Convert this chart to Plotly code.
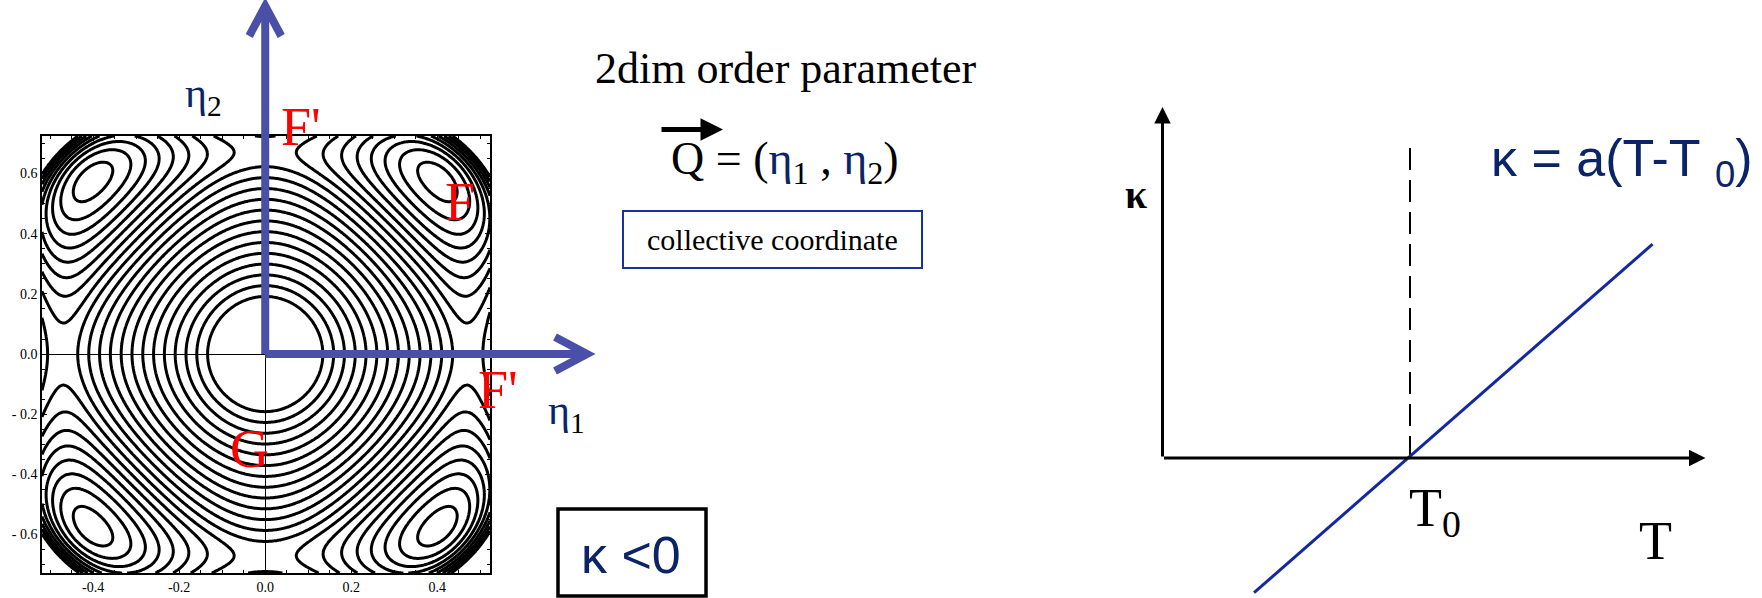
import numpy as np
import plotly.graph_objects as go

W, H = 1762, 598

# ---------------- free-energy landscape F(eta1, eta2), kappa < 0 ----------------
ETA1_RANGE = [-0.519, 0.5226]
ETA2_RANGE = [-0.728, 0.725]
ETA1_SCALE = 1.911      # eta1 -> reduced radius r
ETA2_SCALE = 1.337      # eta2 -> reduced radius r
RIDGE_START = 0.82      # the axis profile starts to bend up here
RIDGE_CURV = 6.25       # curvature of the ridge through the F' saddles
MIN_R = 1.09            # F minima on the diagonals
DEPTH_E = 0.5725        # extra depth of the diagonal valleys
WALL_W = 0.4225         # confining wall along the diagonals
CORNER_CAP = -0.80      # flat top of the far corners
LEVEL_TOP = -0.256
LEVEL_STEP = 0.048
N_LEVELS = 25

X_TICKS = [-0.4, -0.2, 0.0, 0.2, 0.4]
X_TICK_TEXT = ["-0.4", "-0.2", "0.0", "0.2", "0.4"]
Y_TICKS = [-0.6, -0.4, -0.2, 0.0, 0.2, 0.4, 0.6]
Y_TICK_TEXT = ["- 0.6", "- 0.4", "- 0.2", "0.0", "0.2", "0.4", "0.6"]
MINOR_STEP = 0.05

# ---------------- kappa(T) sketch ----------------
T_LINE = [1.85, 9.9]
KAPPA_LINE = [-2.72, 4.32]
T_ZERO = 5.0
DASH_TOP = 6.46
T_AXIS_END = 10.97
KAPPA_AXIS_END = 7.09

NAVY = "#0b2468"
ARROW_BLUE = "#4a4fa8"
LINE_BLUE = "#1428a0"
SERIF = "Liberation Serif"
SANS = "Liberation Sans"
NBSP = "\u00a0"


def px(x):
    return x / W


def py(y):
    return 1 - y / H


# contour panel placement (pixels)
C_LEFT, C_RIGHT, C_TOP, C_BOTTOM = 42, 490, 136, 573

eta1 = np.linspace(ETA1_RANGE[0], ETA1_RANGE[1], 321)
eta2 = np.linspace(ETA2_RANGE[0], ETA2_RANGE[1], 321)
U, V = np.meshgrid(eta1 * ETA1_SCALE, eta2 * ETA2_SCALE)
R = np.hypot(U, V) + 1e-9
# radial profiles along the axes and along the diagonals
f_axis = -R + RIDGE_CURV * np.clip(R - RIDGE_START, 0, None) ** 2
f_diag = -R - DEPTH_E * (R / MIN_R) ** 4 + WALL_W * (R / MIN_R) ** 8
# fourfold angular weight: 1 on the axes, 0 on the diagonals
c4 = ((U**2 - V**2) / R**2) ** 2
Z = c4 * f_axis + (1 - c4) * f_diag
Z = np.where(R > 1.0, np.minimum(Z, CORNER_CAP), Z)

fig = go.Figure()
fig.add_trace(go.Contour(
    x=eta1, y=eta2, z=np.round(Z, 5),
    contours=dict(coloring="lines", start=LEVEL_TOP - LEVEL_STEP * (N_LEVELS - 1),
                  end=LEVEL_TOP, size=LEVEL_STEP, showlabels=False),
    line=dict(width=3, smoothing=1),
    colorscale=[[0, "black"], [1, "black"]], showscale=False,
    hoverinfo="skip", xaxis="x", yaxis="y",
))

# kappa(T) diagram
fig.add_trace(go.Scatter(x=[T_ZERO, T_ZERO], y=[0, DASH_TOP], mode="lines",
                         line=dict(color="black", width=2, dash="22px,10px"),
                         xaxis="x2", yaxis="y2", hoverinfo="skip"))
fig.add_trace(go.Scatter(x=T_LINE, y=KAPPA_LINE, mode="lines",
                         line=dict(color=LINE_BLUE, width=3),
                         xaxis="x2", yaxis="y2", hoverinfo="skip"))

# pixel geometry of the kappa(T) axes
K_ORIGIN = (1162.5, 458.0)
K_SCALE = 49.5


def eta_to_px(e1, e2):
    x = C_LEFT + (e1 - ETA1_RANGE[0]) / (ETA1_RANGE[1] - ETA1_RANGE[0]) * (C_RIGHT - C_LEFT)
    y = C_TOP + (ETA2_RANGE[1] - e2) / (ETA2_RANGE[1] - ETA2_RANGE[0]) * (C_BOTTOM - C_TOP)
    return x, y


ox, oy = eta_to_px(0.0, 0.0)
shapes = []
# eta1 / eta2 coordinate arrows
up_tip = (ox, 6)
right_tip = (587, oy)
for a, b in [((ox, oy), up_tip), ((ox, oy), right_tip)]:
    shapes.append(dict(type="path", xref="paper", yref="paper",
                       path=f"M {px(a[0])} {py(a[1])} L {px(b[0])} {py(b[1])}",
                       line=dict(color=ARROW_BLUE, width=8), layer="above"))
shapes.append(dict(type="path", xref="paper", yref="paper",
                   path=f"M {px(up_tip[0]-16)} {py(36)} L {px(up_tip[0])} {py(up_tip[1])} "
                        f"L {px(up_tip[0]+16)} {py(36)}",
                   line=dict(color=ARROW_BLUE, width=8), layer="above"))
shapes.append(dict(type="path", xref="paper", yref="paper",
                   path=f"M {px(555)} {py(oy-17)} L {px(right_tip[0])} {py(right_tip[1])} "
                        f"L {px(555)} {py(oy+17)}",
                   line=dict(color=ARROW_BLUE, width=8), layer="above"))
# boxes
shapes.append(dict(type="rect", xref="paper", yref="paper",
                   x0=px(623), x1=px(922), y0=py(268), y1=py(211),
                   line=dict(color="#1830a0", width=2)))
shapes.append(dict(type="rect", xref="paper", yref="paper",
                   x0=px(558), x1=px(706), y0=py(596), y1=py(509),
                   line=dict(color="black", width=3.5)))

ann = []


def label(text, x, y, size, color="black", family=SERIF, xanchor="center"):
    ann.append(dict(text=text, x=px(x), y=py(y), xref="paper", yref="paper",
                    showarrow=False, xanchor=xanchor, yanchor="middle",
                    font=dict(family=family, size=size, color=color)))


eta = f"<span style='color:{NAVY}'>η</span>"
label(eta + "<sub>2</sub>", 203, 96, 42)
label(eta + "<sub>1</sub>", 566, 413, 42)
label("F'", 301, 127, 54, "#ff0000")
label("F'", 498, 390, 54, "#ff0000")
label("F", 460, 202, 54, "#ff0000")
label("G", 249, 449, 54, "#ff0000")
label("2dim order parameter", 786, 68, 44)
label(f"Q = ({eta}<sub>1</sub> , {eta}<sub>2</sub>)", 785, 162, 46)
label("collective coordinate", 772, 240, 30)
label("κ <0", 631, 555, 52, NAVY, SANS)
label("<b>κ</b>", 1136, 194, 40)
label(f"κ = a(T-T{NBSP}<sub>0</sub>)", 1489, 162, 52, NAVY, SANS, xanchor="left")
label("T<sub>0</sub>", 1435, 511, 54)
label("T", 1655, 541, 54)

# arrow over Q
ann.append(dict(text="", x=px(723), y=py(129.5), xref="paper", yref="paper",
                ax=-63, ay=0, showarrow=True, arrowhead=2, arrowwidth=5,
                arrowsize=0.9, arrowcolor="black"))
# kappa and T axes
for xe, ye in [(T_AXIS_END, 0), (0, KAPPA_AXIS_END)]:
    ann.append(dict(text="", x=xe, y=ye, ax=0, ay=0, xref="x2", yref="y2",
                    axref="x2", ayref="y2", showarrow=True, arrowhead=2,
                    arrowwidth=3, arrowsize=1.1, arrowcolor="black"))

minor_x = [round(v, 2) for v in np.arange(-0.5, 0.5001, MINOR_STEP)]
minor_y = [round(v, 2) for v in np.arange(-0.7, 0.7001, MINOR_STEP)]

frame = dict(showline=True, mirror="allticks", linecolor="black", linewidth=1.5,
             ticks="inside", ticklen=5, tickwidth=1, tickcolor="black",
             showgrid=False, zeroline=True, zerolinecolor="black", zerolinewidth=1,
             tickfont=dict(family=SERIF, size=14, color="black"), fixedrange=True)

fig.update_layout(
    width=W, height=H, margin=dict(l=0, r=0, t=0, b=0, pad=0),
    paper_bgcolor="white", plot_bgcolor="white", showlegend=False,
    xaxis=dict(domain=[px(C_LEFT), px(C_RIGHT)], range=ETA1_RANGE, anchor="y",
               tickmode="array", tickvals=X_TICKS, ticktext=X_TICK_TEXT,
               minor=dict(tickmode="array", tickvals=minor_x, ticks="inside",
                          ticklen=3, tickcolor="black"), **frame),
    yaxis=dict(domain=[py(C_BOTTOM), py(C_TOP)], range=ETA2_RANGE, anchor="x",
               tickmode="array", tickvals=Y_TICKS, ticktext=Y_TICK_TEXT,
               minor=dict(tickmode="array", tickvals=minor_y, ticks="inside",
                          ticklen=3, tickcolor="black"), **frame),
    xaxis2=dict(domain=[px(1100), 1.0], anchor="y2", visible=False, fixedrange=True,
                range=[(1100 - K_ORIGIN[0]) / K_SCALE, (W - K_ORIGIN[0]) / K_SCALE]),
    yaxis2=dict(domain=[0.0, 1.0], anchor="x2", visible=False, fixedrange=True,
                range=[(K_ORIGIN[1] - H) / K_SCALE, K_ORIGIN[1] / K_SCALE]),
    shapes=shapes, annotations=ann,
)

fig.write_html("out.html")
